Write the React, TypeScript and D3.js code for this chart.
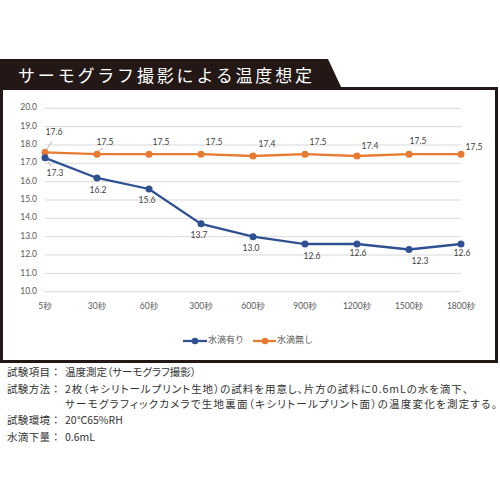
import React from "react";
import * as d3 from "d3";

const categories = ["5秒", "30秒", "60秒", "300秒", "600秒", "900秒", "1200秒", "1500秒", "1800秒"];
const withDrops = [17.3, 16.2, 15.6, 13.7, 13.0, 12.6, 12.6, 12.3, 12.6];
const withoutDrops = [17.6, 17.5, 17.5, 17.5, 17.4, 17.5, 17.4, 17.5, 17.5];
const yTicks = [10, 11, 12, 13, 14, 15, 16, 17, 18, 19, 20];
const seriesNames = ["水滴有り", "水滴無し"];
const title = "サーモグラフ撮影による温度想定";
const noteLabels = ["試験項目", "試験方法", "", "試験環境", "水滴下量"];
const noteValues = [
  "温度測定（サーモグラフ撮影）",
  "2枚（キシリトールプリント生地）の試料を用意し、片方の試料に0.6mLの水を滴下、",
  "サーモグラフィックカメラで生地裏面（キシリトールプリント面）の温度変化を測定する。",
  "20℃65%RH",
  "0.6mL",
];

// layout only
const blueLabelOffsets = [[10, 16], [1, 13], [-2, 12], [-2, 12], [-2, 12], [7, 13], [1, 10], [11, 12], [1, 10]];
const orangeLabelOffsets = [[9, -19], [8, -11], [12, -11], [13, -11], [14, -11], [13, -11], [13, -9], [9, -12], [13, -6]];
const noteYs = [373, 390, 405, 421, 438];
const noteLengths = [0, 403, 432, 0, 0];

const BLUE = "#2f5192";
const ORANGE = "#e87b33";
const CJK = "'Noto Sans CJK JP', 'Noto Sans', sans-serif";
const NUM = "Lato, 'Noto Sans CJK JP', sans-serif";

export default function App() {
  const x = d3.scalePoint<string>().domain(categories).range([45, 461]);
  const y = d3.scaleLinear().domain([10, 20]).range([291.7, 108.3]);
  const line = d3
    .line<number>()
    .x((_, i) => x(categories[i]) as number)
    .y((d) => y(d));

  return (
    <svg
      width={500}
      height={500}
      style={{ position: "absolute", left: 0, top: 0, background: "#fff" }}
    >
      <rect x={0} y={0} width={500} height={500} fill="#fff" />
      {/* frame */}
      <rect x={1.5} y={88.5} width={495} height={273} fill="#fff" stroke="#231815" strokeWidth={3} />
      <polygon points="0,59 328,59 342,89 0,89" fill="#231815" />
      <text
        x={18}
        y={82}
        fill="#fff"
        fontFamily={CJK}
        fontSize={17}
        textLength={294}
        lengthAdjust="spacing"
      >
        {title}
      </text>

      {/* gridlines */}
      {yTicks.map((t) => (
        <g key={t}>
          <line x1={45} x2={461} y1={y(t)} y2={y(t)} stroke="#d9d9d9" strokeWidth={1} />
          <text
            x={37}
            y={y(t)}
            textAnchor="end"
            dominantBaseline="middle"
            fontFamily={NUM}
            fontSize={8.5}
            fill="#595959"
          >
            {t.toFixed(1)}
          </text>
        </g>
      ))}
      {categories.map((c) => (
        <text
          key={c}
          x={x(c)}
          y={307}
          textAnchor="middle"
          dominantBaseline="middle"
          fontFamily={NUM}
          fontSize={8.5}
          fill="#595959"
        >
          {c}
        </text>
      ))}

      {/* leader lines */}
      <g stroke="#a6a6a6" strokeWidth={0.8}>
        <line x1={47} y1={149} x2={52} y2={141} />
        <line x1={47} y1={160} x2={51} y2={166} />
        <line x1={98} y1={151} x2={103} y2={148} />
      </g>

      {/* series */}
      <path d={line(withoutDrops) || ""} fill="none" stroke={ORANGE} strokeWidth={2.3} />
      <path d={line(withDrops) || ""} fill="none" stroke={BLUE} strokeWidth={2.3} />
      {withoutDrops.map((v, i) => (
        <circle key={"o" + i} cx={x(categories[i])} cy={y(v)} r={3.5} fill={ORANGE} />
      ))}
      {withDrops.map((v, i) => (
        <circle key={"b" + i} cx={x(categories[i])} cy={y(v)} r={3.5} fill={BLUE} />
      ))}
      {withoutDrops.map((v, i) => (
        <text
          key={"ol" + i}
          x={(x(categories[i]) as number) + orangeLabelOffsets[i][0]}
          y={y(v) + orangeLabelOffsets[i][1]}
          textAnchor="middle"
          dominantBaseline="middle"
          fontFamily={NUM}
          fontSize={8.5}
          fill="#404040"
        >
          {v.toFixed(1)}
        </text>
      ))}
      {withDrops.map((v, i) => (
        <text
          key={"bl" + i}
          x={(x(categories[i]) as number) + blueLabelOffsets[i][0]}
          y={y(v) + blueLabelOffsets[i][1]}
          textAnchor="middle"
          dominantBaseline="middle"
          fontFamily={NUM}
          fontSize={8.5}
          fill="#404040"
        >
          {v.toFixed(1)}
        </text>
      ))}

      {/* legend */}
      <g>
        <line x1={183} x2={207} y1={341} y2={341} stroke={BLUE} strokeWidth={2.3} />
        <circle cx={195} cy={341} r={3.3} fill={BLUE} />
        <text x={208} y={341} dominantBaseline="middle" fontFamily={CJK} fontSize={9} fill="#595959">
          {seriesNames[0]}
        </text>
        <line x1={253} x2={276} y1={341} y2={341} stroke={ORANGE} strokeWidth={2.3} />
        <circle cx={265} cy={341} r={3.3} fill={ORANGE} />
        <text x={277} y={341} dominantBaseline="middle" fontFamily={CJK} fontSize={9} fill="#595959">
          {seriesNames[1]}
        </text>
      </g>

      {/* notes */}
      {noteValues.map((value, i) => (
        <g key={"n" + i} fontFamily={CJK} fontSize={10.5} fill="#333" style={{ fontFeatureSettings: '"palt"' }}>
          {noteLabels[i] && (
            <>
              <text x={7} y={noteYs[i]} dominantBaseline="middle" textLength={43} lengthAdjust="spacing">
                {noteLabels[i]}
              </text>
              <text x={53} y={noteYs[i]} dominantBaseline="middle">
                ：
              </text>
            </>
          )}
          <text
            x={65}
            y={noteYs[i]}
            dominantBaseline="middle"
            {...(noteLengths[i] ? { textLength: noteLengths[i], lengthAdjust: "spacing" } : {})}
          >
            {value}
          </text>
        </g>
      ))}
    </svg>
  );
}
